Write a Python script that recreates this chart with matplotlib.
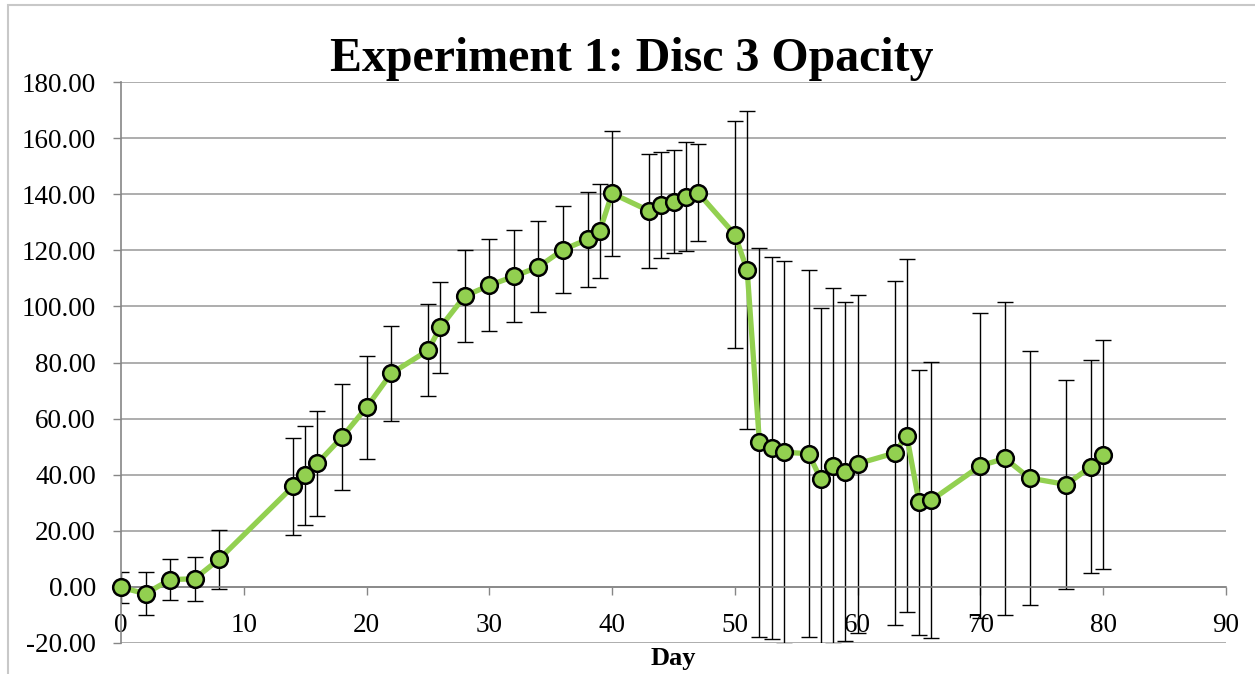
import matplotlib
matplotlib.use("Agg")
import matplotlib.pyplot as plt
from matplotlib.patches import Rectangle
from matplotlib.ticker import FormatStrFormatter

plt.rcParams.update({
    "font.family": "Liberation Serif",
    "font.size": 19.5,
})

# Data
days = [0, 2, 4, 6, 8, 14, 15, 16, 18, 20, 22, 25, 26, 28, 30, 32, 34, 36, 38, 39,
        40, 43, 44, 45, 46, 47, 50, 51, 52, 53, 54, 56, 57, 58, 59, 60, 63, 64, 65, 66,
        70, 72, 74, 77, 79, 80]
opacity = [-0.2, -2.4, 2.6, 2.9, 9.9, 35.8, 39.8, 44.1, 53.4, 64.0, 76.1, 84.3, 92.5,
           103.7, 107.5, 110.7, 114.1, 120.2, 123.9, 127.0, 140.3, 134.1, 136.1, 137.3,
           139.1, 140.5, 125.6, 112.9, 51.5, 49.5, 48.0, 47.5, 38.4, 43.0, 41.1, 43.9,
           47.7, 53.9, 30.1, 30.9, 43.2, 45.8, 38.8, 36.5, 42.9, 47.1]
errors = [5.5, 7.7, 7.3, 7.8, 10.5, 17.3, 17.7, 18.7, 18.8, 18.3, 17.0, 16.4, 16.1,
          16.4, 16.4, 16.4, 16.2, 15.5, 16.9, 16.7, 22.4, 20.3, 19.0, 18.4, 19.5, 17.3,
          40.4, 56.6, 69.3, 68.2, 68.3, 65.5, 61.0, 63.4, 60.4, 60.3, 61.2, 62.9, 47.4,
          49.2, 54.4, 55.9, 45.4, 37.4, 38.1, 40.8]

green = '#92D050'
grid_gray = '#A0A0A0'

fig = plt.figure(figsize=(12.55, 6.74), dpi=100)
ax = fig.add_axes([121 / 1255, 31 / 674, 1105 / 1255, 561 / 674])

# chart area border (only top/left visible in the crop)
fig.patches.append(Rectangle((8 / 1255, -0.1), 1.2, 1.1 - 5 / 674, transform=fig.transFigure,
                             fill=False, edgecolor='#C8C8C8', linewidth=1.5))

# error bars behind the line
ax.errorbar(days, opacity, yerr=errors, fmt='none', ecolor='black', elinewidth=1.0,
            capsize=6, capthick=1.0, zorder=2)
ax.plot(days, opacity, color=green, linewidth=3.8, marker='o', markersize=12,
        markerfacecolor=green, markeredgecolor='black', markeredgewidth=1.8,
        zorder=3, clip_on=False)

ax.set_xlim(0, 90)
ax.set_ylim(-20, 180)
ax.set_xticks(range(0, 91, 10))
ax.set_yticks(range(-20, 181, 20))
ax.yaxis.set_major_formatter(FormatStrFormatter('%.2f'))

ax.grid(True, axis='y', color=grid_gray, linewidth=1.2)
ax.set_axisbelow(True)

ax.spines['top'].set_visible(False)
ax.spines['right'].set_visible(False)
ax.spines['bottom'].set_position(('data', 0))
ax.spines['bottom'].set_color('#868686')
ax.spines['left'].set_color('#868686')
ax.spines['bottom'].set_linewidth(1.2)
ax.spines['left'].set_linewidth(1.2)

ax.tick_params(axis='x', direction='out', length=6, width=1.0, color='#868686', pad=13)
ax.tick_params(axis='y', direction='out', length=6, width=1.0, color='#868686', pad=12)

ax.text(0.5, -0.0285, "Day", transform=ax.transAxes, ha='center', va='center',
        fontsize=19, fontweight='bold')

fig.text(0.5036, (674 - 59) / 674, "Experiment 1: Disc 3 Opacity", ha='center', va='center',
         fontsize=34.5, fontweight='bold')

plt.savefig("out.png", dpi=100)
